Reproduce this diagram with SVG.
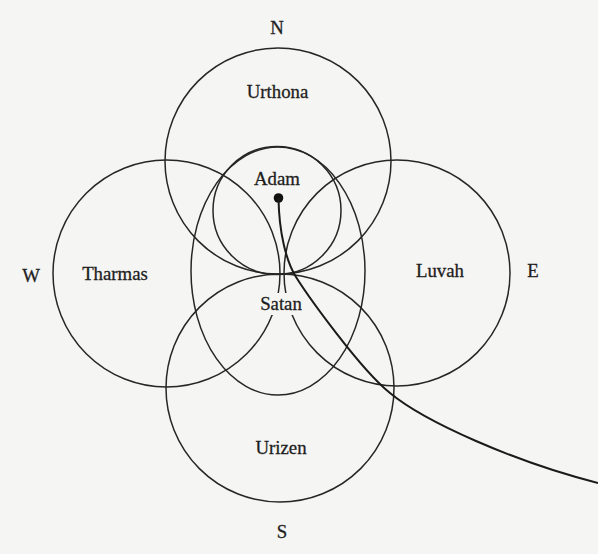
<svg xmlns="http://www.w3.org/2000/svg" width="598" height="554" viewBox="0 0 598 554">
<style>
.c{fill:none;stroke:#262626;stroke-width:1.5}
.t{font-family:"Liberation Serif","Times New Roman",serif;font-size:18.8px;fill:#1e1e1e;stroke:#1e1e1e;stroke-width:0.3;text-anchor:middle}
.bg{fill:#f5f5f3}
</style>
<rect x="0" y="0" width="598" height="554" class="bg"/>
<g id="urthona"><circle class="c" cx="278" cy="161" r="113"/><text class="t" x="277.5" y="97.5">Urthona</text></g>
<g id="tharmas"><circle class="c" cx="166.5" cy="273.5" r="113.5"/><text class="t" x="115" y="280">Tharmas</text></g>
<g id="luvah"><circle class="c" cx="397" cy="273" r="113"/><text class="t" x="440" y="277">Luvah</text></g>
<g id="urizen"><circle class="c" cx="280" cy="388" r="114"/><text class="t" x="281" y="454">Urizen</text></g>
<g id="egg"><ellipse class="c" cx="278" cy="271" rx="87" ry="124"/></g>
<g id="adam"><circle class="c" cx="277" cy="210.5" r="64"/><text class="t" x="277" y="185">Adam</text><circle cx="278.5" cy="198" r="4.8" fill="#111"/></g>
<g id="satan"><rect class="bg" x="256" y="293" width="50" height="22"/><text class="t" x="281" y="310">Satan</text></g>
<g id="compass">
<text class="t" x="277" y="34">N</text>
<text class="t" x="282" y="538">S</text>
<text class="t" x="31" y="282">W</text>
<text class="t" x="533" y="277">E</text>
</g>
<g id="connectors">
<path d="M278.5,198 C279,232 286,261 296,277 C308,296 360,369 390,393 C425,422 515,462 598,483" fill="none" stroke="#1a1a1a" stroke-width="2"/>
</g>
</svg>
